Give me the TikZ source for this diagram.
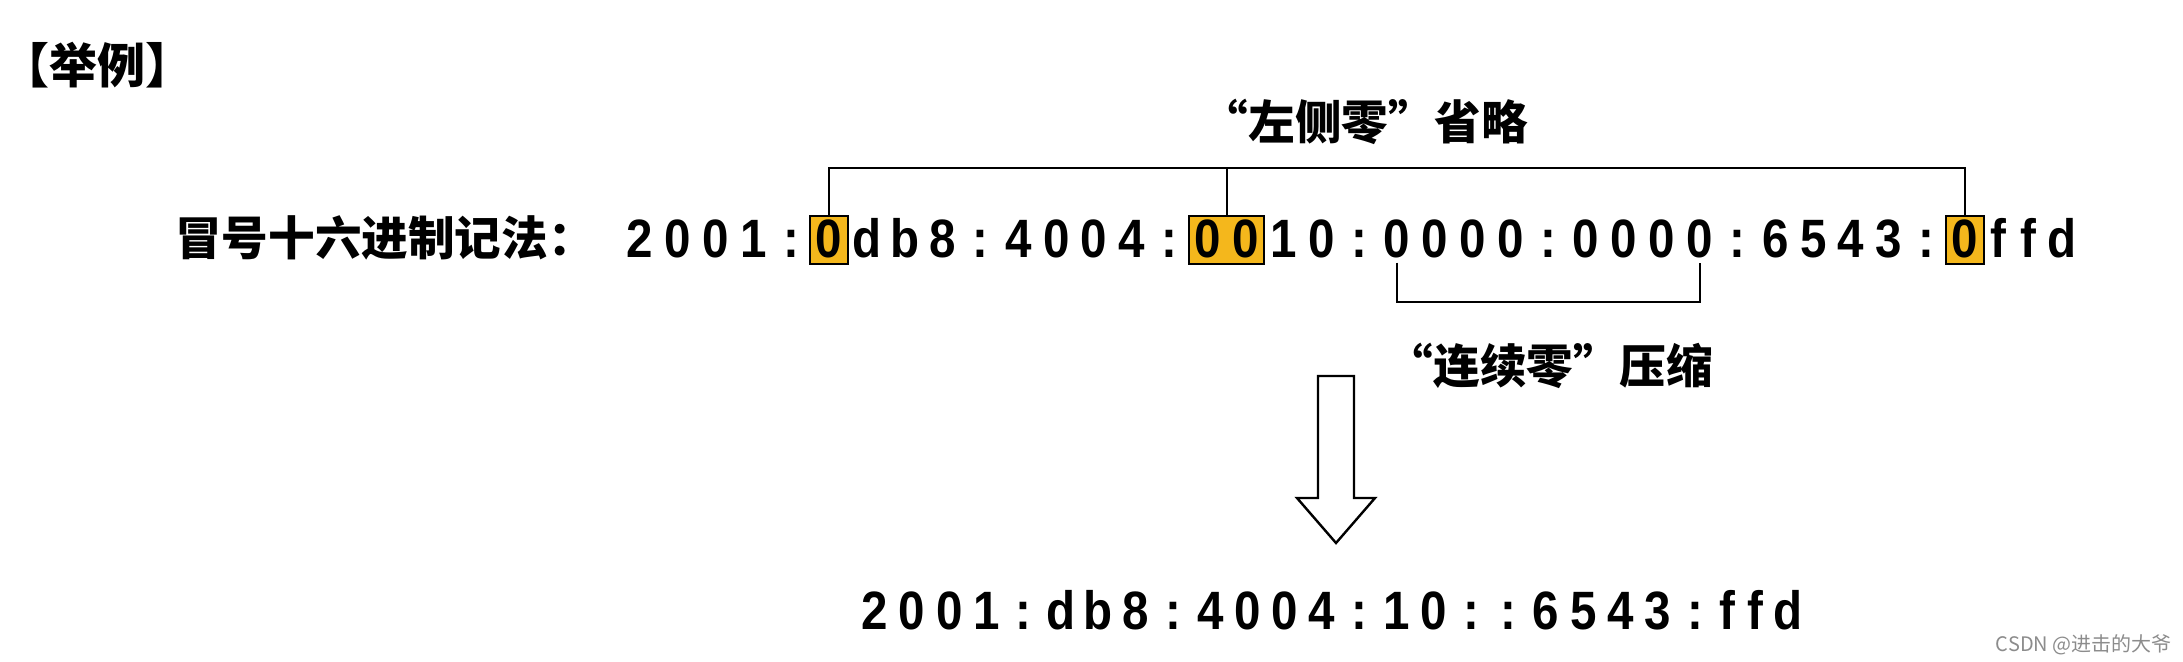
\documentclass[tikz,border=0pt]{standalone}
\usepackage{fontspec}
\setmainfont{Liberation Sans}
\newfontfamily\cjk{Noto Sans CJK SC}
\newfontfamily\hexfont{Liberation Sans}[FakeStretch=0.88]
\usetikzlibrary{positioning,calc}
\definecolor{ink}{HTML}{000000}
\definecolor{mark}{HTML}{F4B71C}
\definecolor{wm}{HTML}{8C8C8C}
\newlength\digitpitch \setlength\digitpitch{18.925pt}
\newlength\fpitch \setlength\fpitch{14.8pt}
\def\spaced#1{\spacedi#1\relax}
\def\spacedi#1{\ifx\relax#1\else\ifx f#1\makebox[\fpitch]{#1}\else\makebox[\digitpitch]{#1}\fi\expandafter\spacedi\fi}
\tikzset{
  hex/.style={inner sep=0pt,outer sep=0pt,font=\hexfont\bfseries\fontsize{27}{30}\selectfont},
  zero/.style={hex,draw=ink,fill=mark,line width=1pt,text height=21pt,text depth=3pt},
  cjklbl/.style={font=\cjk\bfseries\fontsize{23.3}{27}\selectfont,inner sep=0pt},
  bracket/.style={draw=ink,line width=1pt},
  hollow/.style={draw=ink,line width=1.2pt,fill=white,line join=miter}}
\begin{document}
\begin{tikzpicture}[x=0.5pt,y=-0.5pt]
\useasboundingbox (0,0) rectangle (2183,662);
% heading
\node[cjklbl,anchor=west,font=\cjk\bfseries\fontsize{24}{28}\selectfont] (title) at (1,65) {【举例】};
\node[cjklbl] (lbl) at (385,238) {冒号十六进制记法：};
% full address
\node[hex,anchor=base west] (a1) at (621,258) {\spaced{2001:}};
\node[zero,anchor=base west] (z1) at (a1.base east) {\spaced{0}};
\node[hex,anchor=base west] (a2) at (z1.base east) {\spaced{db8:4004:}};
\node[zero,anchor=base west] (z2) at (a2.base east) {\spaced{00}};
\node[hex,anchor=base west] (a3) at (z2.base east) {\spaced{10:}};
\node[hex,anchor=base west] (s1) at (a3.base east) {\spaced{0}};
\node[hex,anchor=base west] (a4) at (s1.base east) {\spaced{000:000}};
\node[hex,anchor=base west] (s2) at (a4.base east) {\spaced{0}};
\node[hex,anchor=base west] (a5) at (s2.base east) {\spaced{:6543:}};
\node[zero,anchor=base west] (z3) at (a5.base east) {\spaced{0}};
\node[hex,anchor=base west] (a6) at (z3.base east) {\spaced{ffd}};
% left zeros dropped
\coordinate (topbar) at (0,168);
\draw[bracket] (z1.north) -- (z1.north |- topbar) -- (z3.north |- topbar) -- (z3.north);
\draw[bracket] (z2.north) -- (z2.north |- topbar);
\node[cjklbl] (omit) at (1365,122) {“左侧零”省略};
% run of zeros
\coordinate (lowbar) at (0,302);
\draw[bracket] ([yshift=-2pt]s1.south) -- (s1.south |- lowbar) -- (s2.south |- lowbar) -- ([yshift=-2pt]s2.south);
\node[cjklbl] (squash) at (1550,366) {“连续零”压缩};
% hollow arrow
\draw[hollow] (1318,376) -- (1354,376) -- (1354,498) -- (1375,498) -- (1336,543) -- (1297,498) -- (1318,498) -- cycle;
% compressed address
\node[hex,anchor=base west] (short) at (856,629) {\setlength\digitpitch{18.65pt}\setlength\fpitch{14pt}\spaced{2001:db8:4004:10::6543:ffd}};
% watermark
\node[font=\cjk\fontsize{10}{12}\selectfont,text=wm,anchor=east,inner sep=0pt] (wmark) at (2172,645) {CSDN @进击的大爷};
\end{tikzpicture}
\end{document}
